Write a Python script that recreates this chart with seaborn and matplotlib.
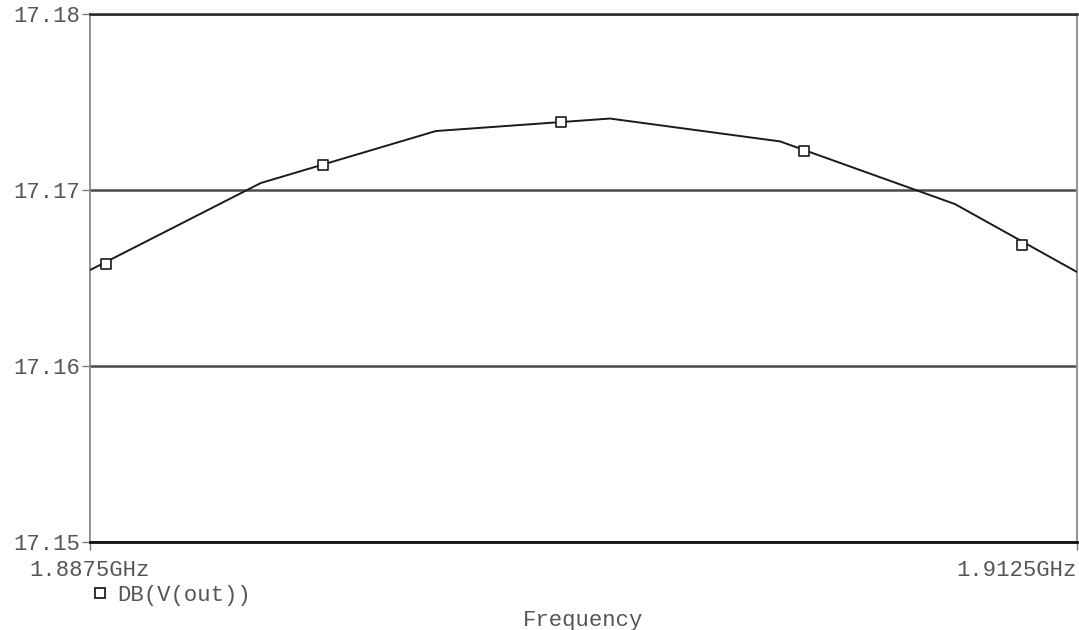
import numpy as np
import pandas as pd
import matplotlib
matplotlib.use("Agg")
import matplotlib.pyplot as plt
from matplotlib.lines import Line2D
import seaborn as sns

# ---- data ----
freq_ghz = [1.8875, 1.89183, 1.89626, 1.90067, 1.90498, 1.90941, 1.9125]
db_vout = [17.16545, 17.17040, 17.17335, 17.17406, 17.17276, 17.16920, 17.16534]

marker_freq_ghz = [1.88791, 1.89340, 1.89943, 1.90559, 1.91111]
marker_db = [17.16580, 17.17142, 17.17386, 17.17222, 17.16687]

y_ticks = [17.15, 17.16, 17.17, 17.18]
x_ticks = [1.8875, 1.9125]
x_tick_labels = ["1.8875GHz", "1.9125GHz"]
series_label = "DB(V(out))"
x_label = "Frequency"

sns.set_theme(style="white")
plt.rcParams["font.family"] = ["Liberation Mono", "DejaVu Sans Mono"]

line_df = pd.DataFrame({"freq": freq_ghz, "db": db_vout})
mark_df = pd.DataFrame({"freq": marker_freq_ghz, "db": marker_db})

fig = plt.figure(figsize=(10.79, 6.30), dpi=100)
ax = fig.add_axes([90 / 1079, 88 / 630, 987 / 1079, 528 / 630])

sns.lineplot(data=line_df, x="freq", y="db", ax=ax, color="#1a1a1a",
             linewidth=1.4, zorder=3)
sns.scatterplot(data=mark_df, x="freq", y="db", ax=ax, marker="s", s=55,
                facecolor="white", edgecolor="#1a1a1a", linewidth=1.2, zorder=4)

ax.set_xlim(x_ticks[0], x_ticks[-1])
ax.set_ylim(y_ticks[0], y_ticks[-1])

# horizontal grid
ax.set_yticks(y_ticks)
ax.set_yticklabels([f"{v:.2f}" for v in y_ticks])
ax.yaxis.grid(True, color="#4a4a4a", linewidth=1.8, zorder=1)
ax.xaxis.grid(False)

ax.set_xticks(x_ticks)
ax.set_xticklabels(x_tick_labels)
tl = ax.get_xticklabels()
tl[0].set_horizontalalignment("center")
tl[-1].set_horizontalalignment("right")

ax.tick_params(axis="both", which="both", direction="out", length=6,
               width=1.0, color="#777777", labelcolor="#555555",
               labelsize=16, left=True, bottom=True)
ax.tick_params(axis="y", pad=1)
ax.tick_params(axis="x", pad=7)

for side in ["left", "right"]:
    ax.spines[side].set_color("#8a8a8a")
    ax.spines[side].set_linewidth(1.3)
ax.spines["top"].set_color("#2a2a2a")
ax.spines["top"].set_linewidth(1.8)
ax.spines["bottom"].set_color("#111111")
ax.spines["bottom"].set_linewidth(2.0)

ax.set_ylabel("")
ax.set_xlabel(x_label, fontsize=16, color="#555555", labelpad=21)

handle = Line2D([], [], marker="s", linestyle="none", markerfacecolor="white",
                markeredgecolor="#222222", markersize=6.5, markeredgewidth=1.3)
ax.legend(handles=[handle], labels=[series_label], loc="center left",
          bbox_to_anchor=(93 / 1079, 1 - 595 / 630), bbox_transform=fig.transFigure,
          frameon=False, handlelength=0.6, handletextpad=0.5, borderpad=0,
          borderaxespad=0, prop={"size": 16}, labelcolor="#555555")

fig.savefig("out.png", dpi=100)
